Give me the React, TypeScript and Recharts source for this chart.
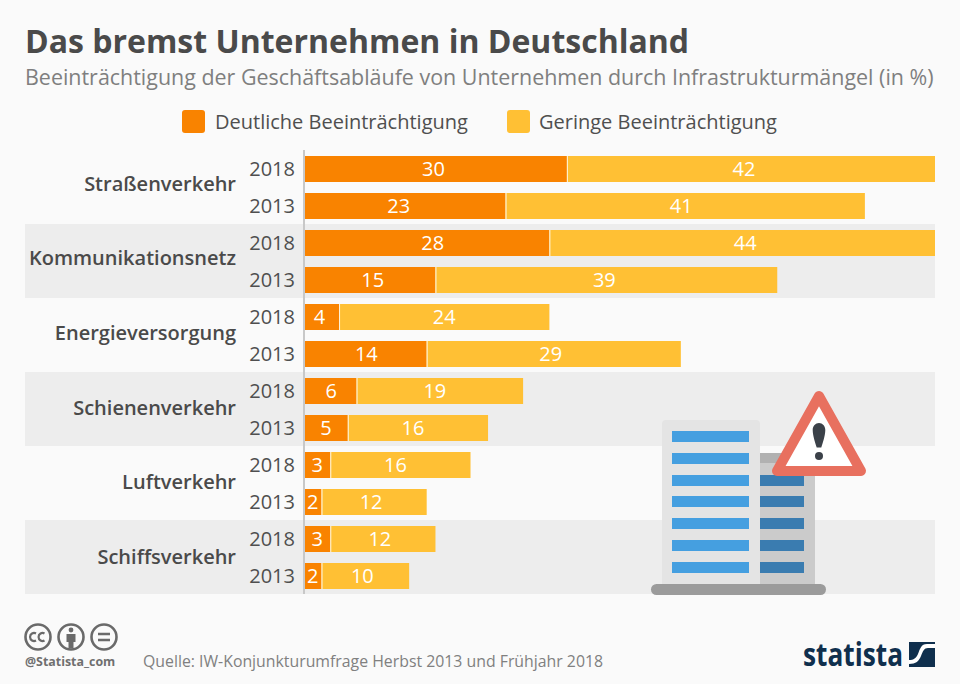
import React from "react";
import { BarChart, Bar, XAxis, YAxis, LabelList } from "recharts";

const categories = ["Straßenverkehr", "Kommunikationsnetz", "Energieversorgung", "Schienenverkehr", "Luftverkehr", "Schiffsverkehr"];
const years = ["2018", "2013"];
const deutlich = [30, 23, 28, 15, 4, 14, 6, 5, 3, 2, 3, 2];
const gering = [42, 41, 44, 39, 24, 29, 19, 16, 16, 12, 12, 10];
const seriesNames = ["Deutliche Beeinträchtigung", "Geringe Beeinträchtigung"];
const seriesColors = ["#f98300", "#ffc034"];
// The reference's value labels sit slightly off the segment centres; small horizontal nudges in px.
const deutlichLabelNudge = [-2, -6, 6, 3, -2, 1, 1, 0, 0, 0, 0, 0];
const geringLabelNudge = [-7, -4, 3, -2, 0, -3, -5, -5, -5, -3, -3, -3];
const windowRows = [431, 453, 475, 496, 518, 540, 562];
const darkWindowRows = [475, 496, 518, 540, 562];
const bandTops = [224, 372, 520];

const rows = deutlich.map((d, i) => ({
  id: `${categories[Math.floor(i / 2)]} ${years[i % 2]}`,
  category: categories[Math.floor(i / 2)],
  year: years[i % 2],
  deutlich: d,
  gering: gering[i],
}));

const FONT = "'Open Sans', sans-serif";

function RowTick(props: any) {
  const { y, index } = props;
  const row = rows[index];
  return (
    <g>
      <text x={295} y={y + 7.5} textAnchor="end" fontFamily={FONT} fontSize={20} fill="#4f4f4f">{row.year}</text>
      {index % 2 === 0 && (
        <text x={236} y={y + 22 + index * 0.35} textAnchor="end" fontFamily={FONT} fontSize={20} fontWeight={600} fill="#4a4a4a">{row.category}</text>
      )}
    </g>
  );
}

function makeLabel(nudges: number[]) {
  return function ValueLabel(props: any) {
    const { x, y, width, height, value, index } = props;
    return (
      <text
        x={x + width / 2 + nudges[index]}
        y={y + height / 2 + 7}
        textAnchor="middle"
        fontFamily={FONT}
        fontSize={20}
        fill="#ffffff"
      >
        {value}
      </text>
    );
  };
}

function GeringShape(props: any) {
  const { x, y, width, height, fill } = props;
  return (
    <g>
      <rect x={x} y={y} width={width} height={height} fill={fill} />
      <line x1={x + 0.5} x2={x + 0.5} y1={y} y2={y + height} stroke="#fff3dc" strokeWidth={1} />
    </g>
  );
}

function Illustration() {
  return (
    <svg width={960} height={684} style={{ position: "absolute", left: 0, top: 0, pointerEvents: "none" }}>
      <rect x={760} y={453} width={55} height={132} fill="#cbcbcb" />
      <rect x={760} y={453} width={55} height={10} fill="#b1b1b1" />
      {darkWindowRows.map((y) => <rect key={y} x={760} y={y} width={44} height={11} fill="#3a7cb0" />)}
      <path d="M662 424a4 4 0 0 1 4-4h90a4 4 0 0 1 4 4v161h-98z" fill="#e4e4e4" />
      {windowRows.map((y) => <rect key={y} x={672} y={y} width={77} height={11} fill="#459fe0" />)}
      <rect x={651} y={584} width={175} height={11} rx={5.5} fill="#9b9b9b" />
      <path d="M819 396 L861 471 L777 471 Z" fill="#ffffff" stroke="#e8705f" strokeWidth={10} strokeLinejoin="round" />
      <path d="M812.7 430c0-4 2.8-7 6.3-7s6.3 3 6.3 7c0 6-3 14-4 17.5h-4.6c-1-3.5-4-11.5-4-17.500z" fill="#3b4149" />
      <circle cx={819} cy={456} r={4} fill="#3b4149" />
      <g fill="none" stroke="#6a6a6a" strokeWidth={2.6}>
        <circle cx={38} cy={637} r={12.5} />
        <circle cx={71} cy={637} r={12.5} />
        <circle cx={104} cy={637} r={12.5} />
        <path d="M36 633.5a4 4 0 1 0 0 7M44.5 633.5a4 4 0 1 0 0 7" strokeWidth={2.2} />
        <path d="M98 634h12M98 640h12" />
      </g>
      <circle cx={71} cy={630} r={2.4} fill="#6a6a6a" />
      <path d="M66.5 634h9v8h-2v6.500h-5v-6.500h-2z" fill="#6a6a6a" />
      <text x={25} y={666} fontFamily={FONT} fontSize={12.4} fontWeight={700} fill="#6f6f6f">@Statista_com</text>
      <text x={143} y={667} fontFamily={FONT} fontSize={15.83} fill="#808080">Quelle: IW-Konjunkturumfrage Herbst 2013 und Frühjahr 2018</text>
      <text x={803} y={666} fontFamily={FONT} fontSize={32} fontWeight={700} fill="#0f2f4d" textLength={100} lengthAdjust="spacingAndGlyphs">statista</text>
      <rect x={909} y={642} width={26} height={25} fill="#0f2f4d" />
      <path d="M935 644h-8c-6 0-7 5-9 10-2 4-4 6-9 6v4c7 0 10-3 12-8 2-5 3-8 7-8h7z" fill="#ffffff" />
    </svg>
  );
}

export default function App() {
  return (
    <div style={{ position: "absolute", left: 0, top: 0, width: 960, height: 684, background: "#fafafa", overflow: "hidden", fontFamily: FONT }}>
      {bandTops.map((t) => (
        <div key={t} style={{ position: "absolute", left: 25, top: t, width: 910, height: 74, background: "#ededed" }} />
      ))}
      <div style={{ position: "absolute", left: 25, top: 21, fontSize: 32, fontWeight: 700, color: "#4a4a4a", lineHeight: "40px", whiteSpace: "nowrap" }}>Das bremst Unternehmen in Deutschland</div>
      <div style={{ position: "absolute", left: 25, top: 63, fontSize: 21.45, color: "#7f7f7f", lineHeight: "28px", whiteSpace: "nowrap" }}>Beeinträchtigung der Geschäftsabläufe von Unternehmen durch Infrastrukturmängel (in %)</div>
      {seriesNames.map((name, i) => (
        <React.Fragment key={name}>
          <div style={{ position: "absolute", left: [182, 507][i], top: 110, width: 23, height: 23, borderRadius: 3, background: seriesColors[i] }} />
          <div style={{ position: "absolute", left: [215, 539][i], top: 108, fontSize: 20, color: "#4f4f4f", lineHeight: "28px", whiteSpace: "nowrap" }}>{name}</div>
        </React.Fragment>
      ))}
      <div style={{ position: "absolute", left: 0, top: 0 }}>
        <BarChart
          width={960}
          height={684}
          data={rows}
          layout="vertical"
          barSize={26}
          margin={{ top: 150, right: 25, bottom: 90, left: 0 }}
        >
          <XAxis type="number" hide domain={[0, 72]} />
          <YAxis
            type="category"
            dataKey="id"
            width={304}
            interval={0}
            tickLine={false}
            axisLine={{ stroke: "#c8c8c8", strokeWidth: 2 }}
            tick={<RowTick />}
          />
          <Bar dataKey="deutlich" stackId="a" fill={seriesColors[0]} isAnimationActive={false}>
            <LabelList dataKey="deutlich" content={makeLabel(deutlichLabelNudge)} />
          </Bar>
          <Bar dataKey="gering" stackId="a" fill={seriesColors[1]} shape={<GeringShape />} isAnimationActive={false}>
            <LabelList dataKey="gering" content={makeLabel(geringLabelNudge)} />
          </Bar>
        </BarChart>
      </div>
      <Illustration />
    </div>
  );
}
